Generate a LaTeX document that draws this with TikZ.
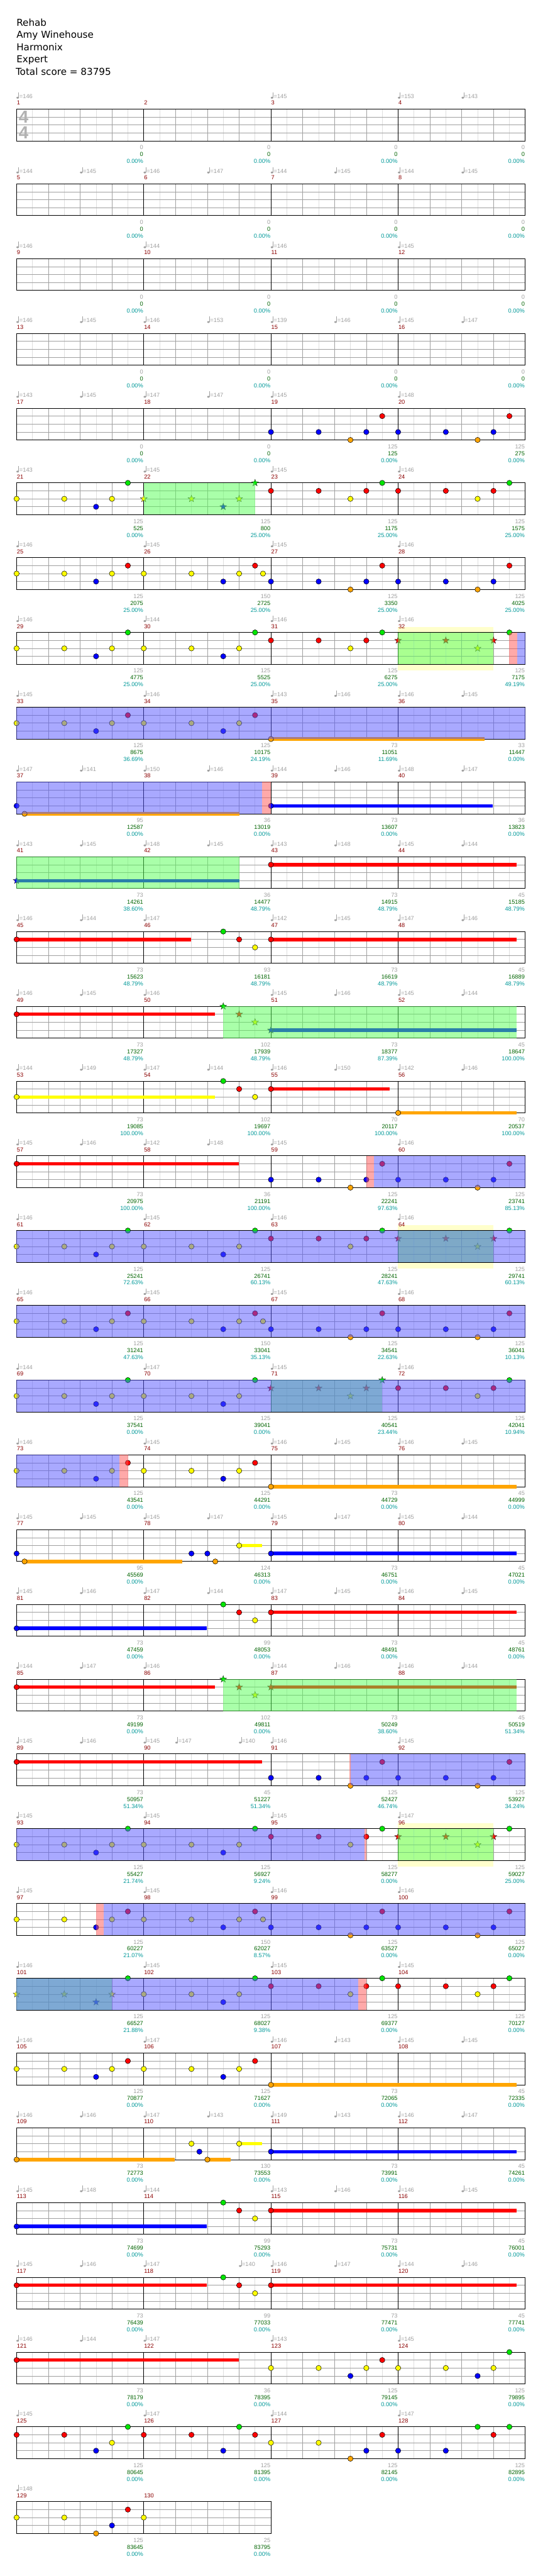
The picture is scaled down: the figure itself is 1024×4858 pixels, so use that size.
\documentclass[tikz,border=0pt]{standalone}
\usepackage{fontspec}
\setmainfont{Liberation Sans}
\newfontfamily\ttlfont{DejaVu Sans}
\definecolor{cG}{RGB}{0,230,0}
\definecolor{cR}{RGB}{255,0,0}
\definecolor{cY}{RGB}{255,255,0}
\definecolor{cB}{RGB}{0,0,255}
\definecolor{cO}{RGB}{255,165,0}
\definecolor{gridc}{RGB}{160,160,160}
\definecolor{lightc}{RGB}{222,222,222}
\definecolor{spc}{RGB}{85,255,85}
\definecolor{odc}{RGB}{85,85,255}
\definecolor{pkc}{RGB}{255,85,85}
\definecolor{yhc}{RGB}{255,255,204}
\definecolor{mnc}{RGB}{139,0,0}
\definecolor{tmc}{RGB}{160,160,160}
\definecolor{cumc}{RGB}{0,100,0}
\definecolor{pcc}{RGB}{0,153,153}
\tikzset{lbl/.style={font=\fontsize{11}{11}\selectfont, inner sep=0pt, outer sep=0pt}}
\newcounter{nn}
\newcommand\Tmp[2]{%
  \fill[tmc] ({60*#1+2},-21.4) ellipse (2.4pt and 1.8pt);
  \draw[tmc, line width=0.8pt] ({60*#1+4},-21.6) -- ({60*#1+4},-31.7);
  \stepcounter{nn}\node[lbl, text=tmc, anchor=base west] (n\thenn) at ({60*#1+5.4},-20.4) {=#2};}
\newcommand\Tmps[1]{\foreach \b/\v in {#1} {\Tmp{\b}{\v}}}
\newcommand\Mn[2]{\stepcounter{nn}\node[lbl, text=mnc, anchor=base west] (n\thenn) at ({240*#1+0.7},-7.7) {#2};}
\newcommand\Mnf[1]{\Mn{0}{#1}\Mn{1}{\the\numexpr#1+1\relax}\Mn{2}{\the\numexpr#1+2\relax}\Mn{3}{\the\numexpr#1+3\relax}}
\newcommand\Scr[4]{%
  \stepcounter{nn}\node[lbl,text=tmc,anchor=base east] (n\thenn) at ({240*#1-1},76.3) {#2};
  \stepcounter{nn}\node[lbl,text=cumc,anchor=base east] (n\thenn) at ({240*#1-1},89.3) {#3};
  \stepcounter{nn}\node[lbl,text=pcc,anchor=base east] (n\thenn) at ({240*#1-1},102.3) {#4\%};}
\newcommand\Scrs[1]{\foreach \sa/\sb/\sc [count=\si] in {#1} {\Scr{\si}{\sa}{\sb}{\sc}}}
\newcommand\Grd[1]{%
  \pgfmathtruncatemacro\nbt{4*#1}
  \foreach \h in {1,...,\nbt} {\draw[lightc, line width=0.8pt] ({60*\h-30},0) -- ({60*\h-30},60);}
  \foreach \h in {1,...,\nbt} {\draw[gridc, line width=0.8pt] ({60*\h},0) -- ({60*\h},60);}
  \foreach \k in {1,2,3} {\draw[gridc, line width=0.8pt] (0,15*\k) -- ({240*#1},15*\k);}
  \foreach \m in {1,...,#1} {\draw[black, line width=0.9pt] ({240*\m},0) -- ({240*\m},60);}
  \draw[black, line width=1pt] (0,0) rectangle ({240*#1},60);}
\newcommand\Nt[3]{\filldraw[fill=#3, draw=black, line width=0.6pt] ({60*#1},{15*#2}) circle (5pt);}
\newcommand\Notes[1]{\foreach \b/\k/\c in {#1} {\Nt{\b}{\k}{\c}}}
\newcommand\St[3]{\filldraw[fill=#3, draw=black!80, line width=0.5pt, shift={({60*#1},{15*#2})}] (-90:6.8) -- (-54:2.8) -- (-18:6.8) -- (18:2.8) -- (54:6.8) -- (90:2.8) -- (126:6.8) -- (162:2.8) -- (198:6.8) -- (234:2.8) -- cycle;}
\newcommand\Stars[1]{\foreach \b/\k/\c in {#1} {\St{\b}{\k}{\c}}}
\newcommand\Sus[4]{\fill[#4] ({60*#1},{15*#3-3.2}) rectangle ({60*#2},{15*#3+3.2});}
\newcommand\Spz[2]{\fill[spc, opacity=0.5] ({60*#1},0) rectangle ({60*#2},60);}
\newcommand\Odz[2]{\fill[odc, opacity=0.5] ({60*#1},0) rectangle ({60*#2},60);}
\newcommand\Pkz[2]{\fill[pkc, opacity=0.5] ({60*#1},0) rectangle ({60*#2},60);}
\newcommand\Yhz[2]{\fill[yhc] ({60*#1},-10.7) rectangle ({60*#2},71.6);}
\begin{document}
\begin{tikzpicture}[x=1pt,y=-1pt]
\useasboundingbox (0,0) rectangle (1024,4858);
\fill[white] (0,0) rectangle (1024,4858);
\begin{scope}[every node/.style={font=\ttlfont\fontsize{18}{18}\selectfont, inner sep=0pt, anchor=base west}]
\node (title) at (31,49) {Rehab};
\node (artist) at (31,72) {Amy Winehouse};
\node (charter) at (31,95) {Harmonix};
\node (diff) at (31,118.3) {Expert};
\node (total) at (29.5,141.7) {Total score = 83795};
\end{scope}
% ---- row 0
\begin{scope}[shift={(31.3,205.7)}]
\Grd{4}
\node[font=\bfseries\fontsize{33}{33}\selectfont, text=black!30, inner sep=0pt] (tsa) at (13.2,14.5) {4};
\node[font=\bfseries\fontsize{33}{33}\selectfont, text=black!30, inner sep=0pt] (tsb) at (13.2,44.5) {4};
\Mnf{1}\Tmps{0/146,8/145,12/153,14/143}
\Scrs{0/0/0.00,0/0/0.00,0/0/0.00,0/0/0.00}
\end{scope}
% ---- row 1
\begin{scope}[shift={(31.3,346.7)}]
\Grd{4}\Mnf{5}\Tmps{0/144,2/145,4/146,6/147,8/144,10/145,12/144,14/145}
\Scrs{0/0/0.00,0/0/0.00,0/0/0.00,0/0/0.00}
\end{scope}
% ---- row 2
\begin{scope}[shift={(31.3,487.7)}]
\Grd{4}\Mnf{9}\Tmps{0/146,4/144,8/146,12/145}
\Scrs{0/0/0.00,0/0/0.00,0/0/0.00,0/0/0.00}
\end{scope}
% ---- row 3
\begin{scope}[shift={(31.3,628.7)}]
\Grd{4}\Mnf{13}\Tmps{0/146,2/145,4/146,6/153,8/139,10/146,12/145,14/147}
\Scrs{0/0/0.00,0/0/0.00,0/0/0.00,0/0/0.00}
\end{scope}
% ---- row 4
\begin{scope}[shift={(31.3,769.7)}]
\Grd{4}
\Notes{8/3/cB,9.5/3/cB,10.5/4/cO,11/3/cB,11.5/1/cR,12/3/cB,13.5/3/cB,14.5/4/cO,15/3/cB,15.5/1/cR}
\Mnf{17}\Tmps{0/143,2/145,4/147,6/147,8/145,12/148}
\Scrs{0/0/0.00,0/0/0.00,125/125/0.00,125/275/0.00}
\end{scope}
% ---- row 5
\begin{scope}[shift={(31.3,910.7)}]
\Grd{4}
\Notes{0/2/cY,1.5/2/cY,2.5/3/cB,3/2/cY,3.5/0/cG}
\Stars{4/2/cY,5.5/2/cY,6.5/3/cB,7/2/cY,7.5/0/cG}
\Notes{8/1/cR,9.5/1/cR,10.5/2/cY,11/1/cR,11.5/0/cG,12/1/cR,13.5/1/cR,14.5/2/cY,15/1/cR,15.5/0/cG}
\Spz{4}{7.5}
\Mnf{21}\Tmps{0/143,4/145,8/145,12/146}
\Scrs{125/525/0.00,125/800/25.00,125/1175/25.00,125/1575/25.00}
\end{scope}
% ---- row 6
\begin{scope}[shift={(31.3,1051.7)}]
\Grd{4}
\Notes{0/2/cY,1.5/2/cY,2.5/3/cB,3/2/cY,3.5/1/cR,4/2/cY,5.5/2/cY,6.5/3/cB,7/2/cY,7.5/1/cR,7.75/2/cY,8/3/cB,9.5/3/cB,10.5/4/cO,11/3/cB,11.5/1/cR,12/3/cB,13.5/3/cB,14.5/4/cO,15/3/cB,15.5/1/cR}
\Mnf{25}\Tmps{0/146,4/145,8/145,12/146}
\Scrs{125/2075/25.00,150/2725/25.00,125/3350/25.00,125/4025/25.00}
\end{scope}
% ---- row 7
\begin{scope}[shift={(31.3,1192.7)}]
\Yhz{12}{15}
\Grd{4}
\Notes{0/2/cY,1.5/2/cY,2.5/3/cB,3/2/cY,3.5/0/cG,4/2/cY,5.5/2/cY,6.5/3/cB,7/2/cY,7.5/0/cG,8/1/cR,9.5/1/cR,10.5/2/cY,11/1/cR,11.5/0/cG}
\Stars{12/1/cR,13.5/1/cR,14.5/2/cY,15/1/cR}
\Notes{15.5/0/cG}
\Spz{12}{15}\Pkz{15.48}{15.75}\Odz{15.75}{16}
\Mnf{29}\Tmps{0/146,4/144,8/146,12/146}
\Scrs{125/4775/25.00,125/5525/25.00,125/6275/25.00,125/7175/49.19}
\end{scope}
% ---- row 8
\begin{scope}[shift={(31.3,1333.7)}]
\Grd{4}
\Notes{0/2/cY,1.5/2/cY,2.5/3/cB,3/2/cY,3.5/1/cR,4/2/cY,5.5/2/cY,6.5/3/cB,7/2/cY,7.5/1/cR}
\Sus{8}{14.72}{4}{cO}\Notes{8/4/cO}
\Odz{0}{16}
\Mnf{33}\Tmps{0/145,4/146,8/143,10/146,12/146,14/145}
\Scrs{125/8675/36.69,125/10175/24.19,73/11051/11.69,33/11447/0.00}
\end{scope}
% ---- row 9
\begin{scope}[shift={(31.3,1474.7)}]
\Grd{4}
\Notes{0/3/cB}
\Sus{0.25}{7}{4}{cO}\Notes{0.25/4/cO}
\Sus{8}{14.97}{3}{cB}\Notes{8/3/cB}
\Odz{0}{7.73}\Pkz{7.73}{8}
\Mnf{37}\Tmps{0/147,2/141,4/150,6/146,8/144,10/146,12/148,14/147}
\Scrs{95/12587/0.00,36/13019/0.00,73/13607/0.00,36/13823/0.00}
\end{scope}
% ---- row 10
\begin{scope}[shift={(31.3,1615.7)}]
\Grd{4}
\Sus{0}{7}{3}{cB}\Stars{0/3/cB}
\Sus{8}{15.73}{1}{cR}\Notes{8/1/cR}
\Spz{0}{7}
\Mnf{41}\Tmps{0/143,2/145,4/148,6/145,8/143,10/148,12/145,14/144}
\Scrs{73/14261/38.60,36/14477/48.79,73/14915/48.79,45/15185/48.79}
\end{scope}
% ---- row 11
\begin{scope}[shift={(31.3,1756.7)}]
\Grd{4}
\Sus{0}{5.48}{1}{cR}\Notes{0/1/cR,6.5/0/cG,7/1/cR,7.5/2/cY}
\Sus{8}{15.73}{1}{cR}\Notes{8/1/cR}
\Mnf{45}\Tmps{0/146,2/144,4/147,8/142,10/145,12/147,14/146}
\Scrs{73/15623/48.79,93/16181/48.79,73/16619/48.79,45/16889/48.79}
\end{scope}
% ---- row 12
\begin{scope}[shift={(31.3,1897.7)}]
\Grd{4}
\Sus{0}{6.23}{1}{cR}\Notes{0/1/cR}
\Stars{6.5/0/cG,7/1/cR,7.5/2/cY}
\Sus{8}{15.73}{3}{cB}\Stars{8/3/cB}
\Spz{6.5}{15.73}
\Mnf{49}\Tmps{0/146,2/145,4/146,8/145,10/146,12/145,14/144}
\Scrs{73/17327/48.79,102/17939/48.79,73/18377/87.39,45/18647/100.00}
\end{scope}
% ---- row 13
\begin{scope}[shift={(31.3,2038.7)}]
\Grd{4}
\Sus{0}{6.23}{2}{cY}\Notes{0/2/cY,6.5/0/cG,7/1/cR,7.5/2/cY}
\Sus{8}{11.73}{1}{cR}\Notes{8/1/cR}
\Sus{12}{15.73}{4}{cO}\Notes{12/4/cO}
\Mnf{53}\Tmps{0/144,2/149,4/147,6/144,8/146,10/150,12/142,14/146}
\Scrs{73/19085/100.00,102/19697/100.00,70/20117/100.00,70/20537/100.00}
\end{scope}
% ---- row 14
\begin{scope}[shift={(31.3,2179.7)}]
\Grd{4}
\Sus{0}{6.99}{1}{cR}\Notes{0/1/cR}
\Notes{8/3/cB,9.5/3/cB,10.5/4/cO,11/3/cB,11.5/1/cR,12/3/cB,13.5/3/cB,14.5/4/cO,15/3/cB,15.5/1/cR}
\Pkz{11}{11.24}\Odz{11.24}{16}
\Mnf{57}\Tmps{0/145,2/146,4/142,6/148,8/145,12/146}
\Scrs{73/20975/100.00,36/21191/100.00,125/22241/97.63,125/23741/85.13}
\end{scope}
% ---- row 15
\begin{scope}[shift={(31.3,2320.7)}]
\Yhz{12}{15}
\Grd{4}
\Notes{0/2/cY,1.5/2/cY,2.5/3/cB,3/2/cY,3.5/0/cG,4/2/cY,5.5/2/cY,6.5/3/cB,7/2/cY,7.5/0/cG,8/1/cR,9.5/1/cR,10.5/2/cY,11/1/cR,11.5/0/cG}
\Stars{12/1/cR,13.5/1/cR,14.5/2/cY,15/1/cR}
\Notes{15.5/0/cG}
\Spz{12}{15}\Odz{0}{16}
\Mnf{61}\Tmps{0/146,4/145,8/146,12/146}
\Scrs{125/25241/72.63,125/26741/60.13,125/28241/47.63,125/29741/60.13}
\end{scope}
% ---- row 16
\begin{scope}[shift={(31.3,2461.7)}]
\Grd{4}
\Notes{0/2/cY,1.5/2/cY,2.5/3/cB,3/2/cY,3.5/1/cR,4/2/cY,5.5/2/cY,6.5/3/cB,7/2/cY,7.5/1/cR,7.75/2/cY,8/3/cB,9.5/3/cB,10.5/4/cO,11/3/cB,11.5/1/cR,12/3/cB,13.5/3/cB,14.5/4/cO,15/3/cB,15.5/1/cR}
\Odz{0}{16}
\Mnf{65}\Tmps{0/146,4/145,8/145,12/146}
\Scrs{125/31241/47.63,150/33041/35.13,125/34541/22.63,125/36041/10.13}
\end{scope}
% ---- row 17
\begin{scope}[shift={(31.3,2602.7)}]
\Grd{4}
\Notes{0/2/cY,1.5/2/cY,2.5/3/cB,3/2/cY,3.5/0/cG,4/2/cY,5.5/2/cY,6.5/3/cB,7/2/cY,7.5/0/cG}
\Stars{8/1/cR,9.5/1/cR,10.5/2/cY,11/1/cR,11.5/0/cG}
\Notes{12/1/cR,13.5/1/cR,14.5/2/cY,15/1/cR,15.5/0/cG}
\Spz{8}{11.5}\Odz{0}{16}
\Mnf{69}\Tmps{0/144,4/147,8/145,12/146}
\Scrs{125/37541/0.00,125/39041/0.00,125/40541/23.44,125/42041/10.94}
\end{scope}
% ---- row 18
\begin{scope}[shift={(31.3,2743.7)}]
\Grd{4}
\Notes{0/2/cY,1.5/2/cY,2.5/3/cB,3/2/cY,3.5/1/cR,4/2/cY,5.5/2/cY,6.5/3/cB,7/2/cY,7.5/1/cR}
\Sus{8}{15.73}{4}{cO}\Notes{8/4/cO}
\Odz{0}{3.24}\Pkz{3.24}{3.51}
\Mnf{73}\Tmps{0/146,4/145,8/146,10/145,12/146,14/145}
\Scrs{125/43541/0.00,125/44291/0.00,73/44729/0.00,45/44999/0.00}
\end{scope}
% ---- row 19
\begin{scope}[shift={(31.3,2884.7)}]
\Grd{4}
\Notes{0/3/cB}
\Sus{0.25}{5.22}{4}{cO}\Notes{0.25/4/cO,5.5/3/cB,6/3/cB,6.25/4/cO}
\Sus{7}{7.73}{2}{cY}\Notes{7/2/cY}
\Sus{8}{15.73}{3}{cB}\Notes{8/3/cB}
\Mnf{77}\Tmps{0/145,2/145,4/145,6/147,8/145,10/147,12/145,14/144}
\Scrs{95/45569/0.00,124/46313/0.00,73/46751/0.00,45/47021/0.00}
\end{scope}
% ---- row 20
\begin{scope}[shift={(31.3,3025.7)}]
\Grd{4}
\Sus{0}{5.98}{3}{cB}\Notes{0/3/cB,6.5/0/cG,7/1/cR,7.5/2/cY}
\Sus{8}{15.73}{1}{cR}\Notes{8/1/cR}
\Mnf{81}\Tmps{0/145,2/146,4/147,6/144,8/147,10/145,12/146,14/145}
\Scrs{73/47459/0.00,99/48053/0.00,73/48491/0.00,45/48761/0.00}
\end{scope}
% ---- row 21
\begin{scope}[shift={(31.3,3166.7)}]
\Grd{4}
\Sus{0}{6.23}{1}{cR}\Notes{0/1/cR}
\Stars{6.5/0/cG,7/1/cR,7.5/2/cY}
\Sus{8}{15.73}{1}{cR}\Stars{8/1/cR}
\Spz{6.5}{15.73}
\Mnf{85}\Tmps{0/144,2/147,4/146,8/144,10/146,12/146,14/144}
\Scrs{73/49199/0.00,102/49811/0.00,73/50249/38.60,45/50519/51.34}
\end{scope}
% ---- row 22
\begin{scope}[shift={(31.3,3307.7)}]
\Grd{4}
\Sus{0}{7.73}{1}{cR}\Notes{0/1/cR}
\Notes{8/3/cB,9.5/3/cB,10.5/4/cO,11/3/cB,11.5/1/cR,12/3/cB,13.5/3/cB,14.5/4/cO,15/3/cB,15.5/1/cR}
\Pkz{10.47}{10.5}\Odz{10.5}{16}
\Mnf{89}\Tmps{0/145,2/146,4/145,5/147,7/140,8/146,12/145}
\Scrs{73/50957/51.34,45/51227/51.34,125/52427/46.74,125/53927/34.24}
\end{scope}
% ---- row 23
\begin{scope}[shift={(31.3,3448.7)}]
\Yhz{12}{15}
\Grd{4}
\Notes{0/2/cY,1.5/2/cY,2.5/3/cB,3/2/cY,3.5/0/cG,4/2/cY,5.5/2/cY,6.5/3/cB,7/2/cY,7.5/0/cG,8/1/cR,9.5/1/cR,10.5/2/cY,11/1/cR,11.5/0/cG}
\Stars{12/1/cR,13.5/1/cR,14.5/2/cY,15/1/cR}
\Notes{15.5/0/cG}
\Spz{12}{15}\Odz{0}{10.95}\Pkz{10.95}{11}
\Mnf{93}\Tmps{0/145,4/145,8/145,12/147}
\Scrs{125/55427/21.74,125/56927/9.24,125/58277/0.00,125/59027/25.00}
\end{scope}
% ---- row 24
\begin{scope}[shift={(31.3,3589.7)}]
\Grd{4}
\Notes{0/2/cY,1.5/2/cY,2.5/3/cB,3/2/cY,3.5/1/cR,4/2/cY,5.5/2/cY,6.5/3/cB,7/2/cY,7.5/1/cR,7.75/2/cY,8/3/cB,9.5/3/cB,10.5/4/cO,11/3/cB,11.5/1/cR,12/3/cB,13.5/3/cB,14.5/4/cO,15/3/cB,15.5/1/cR}
\Pkz{2.5}{2.74}\Odz{2.74}{16}
\Mnf{97}\Tmps{0/145,4/145,8/146,12/146}
\Scrs{125/60227/21.07,150/62027/8.57,125/63527/0.00,125/65027/0.00}
\end{scope}
% ---- row 25
\begin{scope}[shift={(31.3,3730.7)}]
\Grd{4}
\Stars{0/2/cY,1.5/2/cY,2.5/3/cB,3/2/cY}
\Notes{3.5/0/cG,4/2/cY,5.5/2/cY,6.5/3/cB,7/2/cY,7.5/0/cG,8/1/cR,9.5/1/cR,10.5/2/cY,11/1/cR,11.5/0/cG,12/1/cR,13.5/1/cR,14.5/2/cY,15/1/cR,15.5/0/cG}
\Spz{0}{3}\Odz{0}{10.74}\Pkz{10.74}{11}
\Mnf{101}\Tmps{0/146,4/145,8/145,12/145}
\Scrs{125/66527/21.88,125/68027/9.38,125/69377/0.00,125/70127/0.00}
\end{scope}
% ---- row 26
\begin{scope}[shift={(31.3,3871.7)}]
\Grd{4}
\Notes{0/2/cY,1.5/2/cY,2.5/3/cB,3/2/cY,3.5/1/cR,4/2/cY,5.5/2/cY,6.5/3/cB,7/2/cY,7.5/1/cR}
\Sus{8}{15.73}{4}{cO}\Notes{8/4/cO}
\Mnf{105}\Tmps{0/146,4/147,8/146,10/143,12/145,14/145}
\Scrs{125/70877/0.00,125/71627/0.00,73/72065/0.00,45/72335/0.00}
\end{scope}
% ---- row 27
\begin{scope}[shift={(31.3,4012.7)}]
\Grd{4}
\Sus{0}{4.98}{4}{cO}\Notes{0/4/cO,5.5/2/cY,5.75/3/cB}
\Sus{6}{6.74}{4}{cO}\Notes{6/4/cO}
\Sus{7}{7.73}{2}{cY}\Notes{7/2/cY}
\Sus{8}{15.73}{3}{cB}\Notes{8/3/cB}
\Mnf{109}\Tmps{0/146,2/146,4/147,6/143,8/149,10/143,12/146,14/147}
\Scrs{73/72773/0.00,130/73553/0.00,73/73991/0.00,45/74261/0.00}
\end{scope}
% ---- row 28
\begin{scope}[shift={(31.3,4153.7)}]
\Grd{4}
\Sus{0}{5.98}{3}{cB}\Notes{0/3/cB,6.5/0/cG,7/1/cR,7.5/2/cY}
\Sus{8}{15.73}{1}{cR}\Notes{8/1/cR}
\Mnf{113}\Tmps{0/145,2/148,4/144,8/143,10/146,12/146,14/145}
\Scrs{73/74699/0.00,99/75293/0.00,73/75731/0.00,45/76001/0.00}
\end{scope}
% ---- row 29
\begin{scope}[shift={(31.3,4294.7)}]
\Grd{4}
\Sus{0}{5.98}{1}{cR}\Notes{0/1/cR,6.5/0/cG,7/1/cR,7.5/2/cY}
\Sus{8}{15.73}{1}{cR}\Notes{8/1/cR}
\Mnf{117}\Tmps{0/145,2/146,4/147,7/140,8/146,10/147,12/144,14/146}
\Scrs{73/76439/0.00,99/77033/0.00,73/77471/0.00,45/77741/0.00}
\end{scope}
% ---- row 30
\begin{scope}[shift={(31.3,4435.7)}]
\Grd{4}
\Sus{0}{6.99}{1}{cR}\Notes{0/1/cR}
\Notes{8/2/cY,9.5/2/cY,10.5/3/cB,11/2/cY,11.5/1/cR,12/2/cY,13.5/2/cY,14.5/3/cB,15/2/cY,15.5/0/cG}
\Mnf{121}\Tmps{0/146,2/144,4/147,8/143,12/145}
\Scrs{73/78179/0.00,36/78395/0.00,125/79145/0.00,125/79895/0.00}
\end{scope}
% ---- row 31
\begin{scope}[shift={(31.3,4576.7)}]
\Grd{4}
\Notes{0/1/cR,1.5/1/cR,2.5/3/cB,3/2/cY,3.5/0/cG,4/1/cR,5.5/1/cR,6.5/3/cB,7/0/cG,7.5/1/cR,8/2/cY,9.5/2/cY,10.5/4/cO,11/3/cB,11.5/1/cR,12/3/cB,13.5/3/cB,14.5/0/cG,15/1/cR,15.5/0/cG}
\Mnf{125}\Tmps{0/145,4/147,8/144,12/147}
\Scrs{125/80645/0.00,125/81395/0.00,125/82145/0.00,125/82895/0.00}
\end{scope}
% ---- row 32
\begin{scope}[shift={(31.3,4717.7)}]
\Grd{2}
\Notes{0/2/cY,1.5/2/cY,2.5/4/cO,3/3/cB,3.5/1/cR,4/2/cY}
\Mn{0}{129}\Mn{1}{130}\Tmps{0/148}
\Scrs{125/83645/0.00,25/83795/0.00}
\end{scope}
\end{tikzpicture}
\end{document}
